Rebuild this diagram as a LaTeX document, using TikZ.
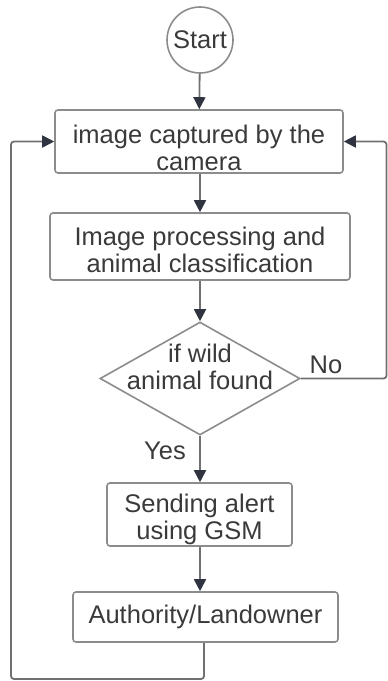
\documentclass[tikz,border=0pt]{standalone}
\usepackage{fontspec}
\setmainfont{Liberation Sans}
\usetikzlibrary{arrows.meta,shapes.geometric}
\definecolor{textgray}{HTML}{3A3A3A}
\definecolor{boxgray}{HTML}{8C8C8C}
\definecolor{linegray}{HTML}{707070}
\definecolor{headcol}{HTML}{2F3440}
\begin{document}
\begin{tikzpicture}[x=1pt,y=-1pt,
  txt/.style={text=textgray, font=\fontsize{25.5}{27}\selectfont, align=center},
  box/.style={draw=boxgray, line width=1.6pt, rounded corners=3pt, inner sep=0pt, txt},
  conn/.style={draw=linegray, line width=1.8pt, -{Triangle[width=12pt,length=12pt,color=headcol]}},
  loopline/.style={draw=linegray, line width=1.8pt, rounded corners=3pt, -{Triangle[width=12pt,length=12pt,color=headcol]}}]
\useasboundingbox (0,0) rectangle (388,681);
\node[box, circle, minimum size=66pt] (start) at (200,40) {Start};
\node[box, rectangle, minimum width=288pt, minimum height=63pt,
  label={[txt, yshift=-6pt]center:image captured by the\\camera}] (cap) at (199,141.5) {};
\node[box, rectangle, minimum width=300pt, minimum height=67pt,
  label={[txt, yshift=-3pt]center:Image processing and\\animal classification}] (proc) at (200,246.5) {};
\node[draw=boxgray, line width=1.6pt, diamond, minimum width=200pt, minimum height=113pt, inner sep=0pt] (dec) at (200,378.5) {};
\node[txt] (dectext) at (200,367) {if wild\\animal found};
\node[box, rectangle, minimum width=185pt, minimum height=63pt,
  label={[txt, yshift=-5pt]center:Sending alert\\using GSM}] (alert) at (199.5,514.5) {};
\node[box, rectangle, minimum width=265pt, minimum height=50pt] (auth) at (205.5,617) {Authority/Landowner};
\node[txt] (no) at (326,365) {No};
\node[txt] (yes) at (165,451) {Yes};
\coordinate (rbot) at (386.5,378.5);
\coordinate (rtop) at (386.5,141.5);
\coordinate (ab) at (204,679);
\coordinate (lb) at (11,679);
\coordinate (lt) at (11,141.5);
\draw[conn] (start) -- (cap);
\draw[conn] (cap.south -| start) -- (proc.north -| start);
\draw[conn] (proc.south -| start) -- (dec.north);
\draw[conn] (dec.south) -- (alert.north -| dec);
\draw[conn] (alert.south -| dec) -- (auth.north -| dec);
\draw[loopline] (dec.east) -- (rbot) -- (rtop) -- (cap.east);
\draw[loopline] (auth.south -| ab) -- (ab) -- (lb) -- (lt) -- (cap.west);
\end{tikzpicture}
\end{document}
